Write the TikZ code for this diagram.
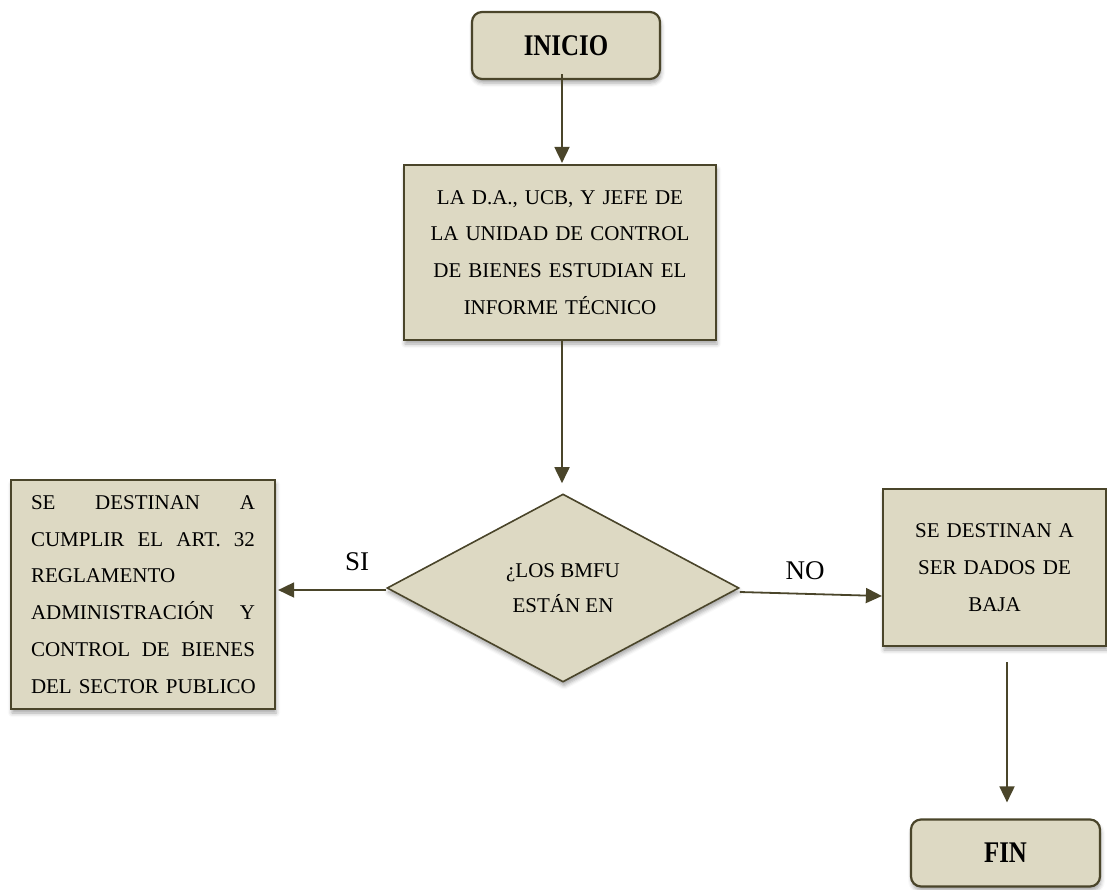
\documentclass[tikz,border=0pt]{standalone}
\usepackage{fontspec}
\setmainfont{Liberation Serif}
\newfontfamily\termfont[FakeStretch=0.83]{Liberation Serif Bold}
\usetikzlibrary{shapes.geometric,arrows.meta,shadows.blur}
\definecolor{tanfill}{HTML}{DDD9C3}
\definecolor{olivedark}{HTML}{4A452A}
\tikzset{
  softshadow/.style={blur shadow={shadow xshift=1pt, shadow yshift=-4pt,
      shadow blur radius=4pt, shadow opacity=35}},
  card/.style={draw=olivedark, line width=2.2pt, fill=tanfill, softshadow,
      inner sep=0pt},
  terminal/.style={card, rounded corners=10pt,
      font=\termfont\fontsize{30}{32}\selectfont},
  process/.style={card, font=\fontsize{21}{36.8}\selectfont, align=center},
  decision/.style={draw=olivedark, line width=1.6pt, fill=tanfill, softshadow,
      shape=diamond, inner sep=0pt, align=center,
      font=\fontsize{21}{35}\selectfont},
  arr/.style={draw=olivedark, line width=1.8pt,
      -{Triangle[length=16pt,width=15pt]}},
  branch/.style={font=\fontsize{27}{30}\selectfont}
}
\begin{document}
\begin{tikzpicture}[x=1pt,y=-1pt]
  \useasboundingbox (0,0) rectangle (1107,889);

  % start and end terminals
  \node[terminal, minimum width=188pt, minimum height=67pt] (inicio) at (566,45.5) {INICIO};
  \node[terminal, minimum width=189pt, minimum height=67pt] (fin) at (1005.5,853) {FIN};

  % study of the technical report
  \node[process, minimum width=312pt, minimum height=175pt, text width=300pt] (estudio) at (560,252.5)
    {LA D.A., UCB, Y JEFE DE\\LA UNIDAD DE CONTROL\\DE BIENES ESTUDIAN EL\\INFORME TÉCNICO\\[-2pt]};

  % decision
  \node[decision, minimum width=352pt, minimum height=188pt] (dec) at (563,588)
    {¿LOS BMFU\\ESTÁN EN};

  % outcome boxes
  \node[process, align=left, minimum width=264pt, minimum height=229pt, text width=224pt] (si) at (143,594.5)
    {SE\hfill DESTINAN\hfill A\\
     CUMPLIR\hfill EL\hfill ART.\hfill 32\\
     REGLAMENTO\\
     ADMINISTRACIÓN\hfill Y\\
     CONTROL\hfill DE\hfill BIENES\\
     \mbox{DEL SECTOR PUBLICO}};
  \node[process, minimum width=223pt, minimum height=157pt, text width=210pt] (no) at (994.5,567.5)
    {SE DESTINAN A\\SER DADOS DE\\BAJA};

  % connectors
  \draw[arr] ([xshift=-4pt,yshift=6pt]inicio.south) -- ([xshift=2pt,yshift=1pt]estudio.north);
  \draw[arr] ([xshift=2pt]estudio.south) -- ([xshift=-1pt,yshift=10pt]dec.north);
  \draw[arr] ([yshift=-2pt]dec.west) -- ([xshift=2pt,yshift=-2pt]dec.west -| si.east);
  \draw[arr] ([yshift=-4pt]dec.east) -- ([yshift=-28.5pt]no.west);
  \draw[arr] ([xshift=12.5pt,yshift=-15pt]no.south) -- ([xshift=1.5pt,yshift=16pt]fin.north);

  % branch labels
  \node[branch] (lsi) at (357,562) {SI};
  \node[branch] (lno) at (805,571) {NO};
\end{tikzpicture}
\end{document}
